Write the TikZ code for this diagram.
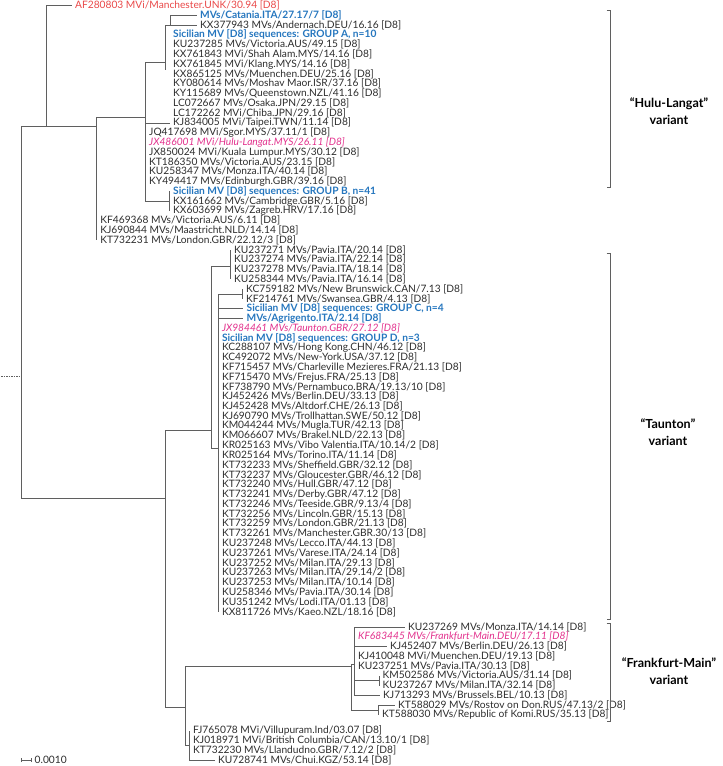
\documentclass[tikz,border=0pt]{standalone}
\usepackage{fontspec}
\setmainfont{Lato}
\definecolor{treegray}{RGB}{95,95,95}
\definecolor{txt}{RGB}{45,45,45}
\definecolor{grpblue}{RGB}{37,118,190}
\definecolor{hlmag}{RGB}{226,48,140}
\definecolor{outred}{RGB}{233,72,72}
\tikzset{
  br/.style={draw=treegray, line width=0.7pt},
  lab/.style={anchor=west, inner xsep=3.5pt, inner ysep=0pt, text=txt, font=\fontsize{10.2}{10}\selectfont},
  blab/.style={lab, text=grpblue, font=\fontsize{10.2}{10}\selectfont\bfseries},
  mlab/.style={lab, text=hlmag, font=\fontsize{10.2}{10}\selectfont\itshape},
  rlab/.style={lab, text=outred},
  varlab/.style={font=\fontsize{12.5}{17}\selectfont\bfseries, align=center, text=black},
}
\begin{document}
\begin{tikzpicture}[x=1pt,y=-1pt]
\useasboundingbox (0,0) rectangle (723,766);
% ---------- labels ----------
\node[rlab] (r1) at (71.5,5.5) {AF280803 MVi/Manchester.UNK/30.94 [D8]};
\node[blab] (r2) at (196.5,15.3) {MVs/Catania.ITA/27.17/7 [D8]};
\node[lab] (r3) at (196.5,25.1) {KX377943 MVs/Andernach.DEU/16.16 [D8]};
\node[blab] (r4) at (169.5,34.8) {Sicilian MV [D8] sequences: GROUP A, n=10};
\node[lab] (r5) at (169.5,44.6) {KU237285 MVs/Victoria.AUS/49.15 [D8]};
\node[lab] (r6) at (169.5,54.4) {KX761843 MVi/Shah Alam.MYS/14.16 [D8]};
\node[lab] (r7) at (169.5,64.2) {KX761845 MVi/Klang.MYS/14.16 [D8]};
\node[lab] (r8) at (169.5,74.0) {KX865125 MVs/Muenchen.DEU/25.16 [D8]};
\node[lab] (r9) at (169.5,83.7) {KY080614 MVs/Moshav Maor.ISR/37.16 [D8]};
\node[lab] (r10) at (169.5,93.5) {KY115689 MVs/Queenstown.NZL/41.16 [D8]};
\node[lab] (r11) at (169.5,103.3) {LC072667 MVs/Osaka.JPN/29.15 [D8]};
\node[lab] (r12) at (169.5,113.1) {LC172262 MVi/Chiba.JPN/29.16 [D8]};
\node[lab] (r13) at (169.5,122.9) {KJ834005 MVi/Taipei.TWN/11.14 [D8]};
\node[lab] (r14) at (145.5,132.6) {JQ417698 MVi/Sgor.MYS/37.11/1 [D8]};
\node[mlab] (r15) at (145.5,142.4) {JX486001 MVi/Hulu-Langat.MYS/26.11 [D8]};
\node[lab] (r16) at (145.5,152.2) {JX850024 MVi/Kuala Lumpur.MYS/30.12 [D8]};
\node[lab] (r17) at (145.5,162.0) {KT186350 MVs/Victoria.AUS/23.15 [D8]};
\node[lab] (r18) at (145.5,171.8) {KU258347 MVs/Monza.ITA/40.14 [D8]};
\node[lab] (r19) at (145.5,181.5) {KY494417 MVs/Edinburgh.GBR/39.16 [D8]};
\node[blab] (r20) at (169.5,191.3) {Sicilian MV [D8] sequences: GROUP B, n=41};
\node[lab] (r21) at (169.5,201.1) {KX161662 MVs/Cambridge.GBR/5.16 [D8]};
\node[lab] (r22) at (169.5,210.9) {KX603699 MVs/Zagreb.HRV/17.16 [D8]};
\node[lab] (r23) at (96.7,220.7) {KF469368 MVs/Victoria.AUS/6.11 [D8]};
\node[lab] (r24) at (96.7,230.4) {KJ690844 MVs/Maastricht.NLD/14.14 [D8]};
\node[lab] (r25) at (96.7,240.2) {KT732231 MVs/London.GBR/22.12/3 [D8]};
\node[lab] (r26) at (230.5,250.0) {KU237271 MVs/Pavia.ITA/20.14 [D8]};
\node[lab] (r27) at (230.5,259.8) {KU237274 MVs/Pavia.ITA/22.14 [D8]};
\node[lab] (r28) at (230.5,269.6) {KU237278 MVs/Pavia.ITA/18.14 [D8]};
\node[lab] (r29) at (230.5,279.3) {KU258344 MVs/Pavia.ITA/16.14 [D8]};
\node[lab] (r30) at (242.5,289.1) {KC759182 MVs/New Brunswick.CAN/7.13 [D8]};
\node[lab] (r31) at (242.5,298.9) {KF214761 MVs/Swansea.GBR/4.13 [D8]};
\node[blab] (r32) at (243,308.7) {Sicilian MV [D8] sequences: GROUP C, n=4};
\node[blab] (r33) at (243,318.5) {MVs/Agrigento.ITA/2.14 [D8]};
\node[mlab] (r34) at (218.3,328.2) {JX984461 MVs/Taunton.GBR/27.12 [D8]};
\node[blab] (r35) at (218.3,338.0) {Sicilian MV [D8] sequences: GROUP D, n=3};
\node[lab] (r36) at (218.3,347.8) {KC288107 MVs/Hong Kong.CHN/46.12 [D8]};
\node[lab] (r37) at (218.3,357.6) {KC492072 MVs/New-York.USA/37.12 [D8]};
\node[lab] (r38) at (218.3,367.4) {KF715457 MVs/Charleville Mezieres.FRA/21.13 [D8]};
\node[lab] (r39) at (218.3,377.1) {KF715470 MVs/Frejus.FRA/25.13 [D8]};
\node[lab] (r40) at (218.3,386.9) {KF738790 MVs/Pernambuco.BRA/19.13/10 [D8]};
\node[lab] (r41) at (218.3,396.7) {KJ452426 MVs/Berlin.DEU/33.13 [D8]};
\node[lab] (r42) at (218.3,406.5) {KJ452428 MVs/Altdorf.CHE/26.13 [D8]};
\node[lab] (r43) at (218.3,416.3) {KJ690790 MVs/Trollhattan.SWE/50.12 [D8]};
\node[lab] (r44) at (218.3,426.0) {KM044244 MVs/Mugla.TUR/42.13 [D8]};
\node[lab] (r45) at (218.3,435.8) {KM066607 MVs/Brakel.NLD/22.13 [D8]};
\node[lab] (r46) at (218.3,445.6) {KR025163 MVs/Vibo Valentia.ITA/10.14/2 [D8]};
\node[lab] (r47) at (218.3,455.4) {KR025164 MVs/Torino.ITA/11.14 [D8]};
\node[lab] (r48) at (218.3,465.2) {KT732233 MVs/Sheffield.GBR/32.12 [D8]};
\node[lab] (r49) at (218.3,474.9) {KT732237 MVs/Gloucester.GBR/46.12 [D8]};
\node[lab] (r50) at (218.3,484.7) {KT732240 MVs/Hull.GBR/47.12 [D8]};
\node[lab] (r51) at (218.3,494.5) {KT732241 MVs/Derby.GBR/47.12 [D8]};
\node[lab] (r52) at (218.3,504.3) {KT732246 MVs/Teeside.GBR/9.13/4 [D8]};
\node[lab] (r53) at (218.3,514.1) {KT732256 MVs/Lincoln.GBR/15.13 [D8]};
\node[lab] (r54) at (218.3,523.8) {KT732259 MVs/London.GBR/21.13 [D8]};
\node[lab] (r55) at (218.3,533.6) {KT732261 MVs/Manchester.GBR.30/13 [D8]};
\node[lab] (r56) at (218.3,543.4) {KU237248 MVs/Lecco.ITA/44.13 [D8]};
\node[lab] (r57) at (218.3,553.2) {KU237261 MVs/Varese.ITA/24.14 [D8]};
\node[lab] (r58) at (218.3,563.0) {KU237252 MVs/Milan.ITA/29.13 [D8]};
\node[lab] (r59) at (218.3,572.7) {KU237263 MVs/Milan.ITA/29.14/2 [D8]};
\node[lab] (r60) at (218.3,582.5) {KU237253 MVs/Milan.ITA/10.14 [D8]};
\node[lab] (r61) at (218.3,592.3) {KU258346 MVs/Pavia.ITA/30.14 [D8]};
\node[lab] (r62) at (218.3,602.1) {KU351242 MVs/Lodi.ITA/01.13 [D8]};
\node[lab] (r63) at (218.3,611.9) {KX811726 MVs/Kaeo.NZL/18.16 [D8]};
\node[lab] (r64) at (404.5,626.9) {KU237269 MVs/Monza.ITA/14.14 [D8]};
\node[mlab] (r65) at (354.5,636.7) {KF683445 MVs/Frankfurt-Main.DEU/17.11 [D8]};
\node[lab] (r66) at (386.5,646.5) {KJ452407 MVs/Berlin.DEU/26.13 [D8]};
\node[lab] (r67) at (354.5,656.2) {KJ410048 MVi/Muenchen.DEU/19.13 [D8]};
\node[lab] (r68) at (354.5,666.0) {KU237251 MVs/Pavia.ITA/30.13 [D8]};
\node[lab] (r69) at (379,675.8) {KM502586 MVs/Victoria.AUS/31.14 [D8]};
\node[lab] (r70) at (379,685.6) {KU237267 MVs/Milan.ITA/32.14 [D8]};
\node[lab] (r71) at (379.5,695.4) {KJ713293 MVs/Brussels.BEL/10.13 [D8]};
\node[lab] (r72) at (394.5,705.2) {KT588029 MVs/Rostov on Don.RUS/47.13/2 [D8]};
\node[lab] (r73) at (378.5,714.9) {KT588030 MVs/Republic of Komi.RUS/35.13 [D8]};
\node[lab] (r74) at (189.5,730.9) {FJ765078 MVi/Villupuram.Ind/03.07 [D8]};
\node[lab] (r75) at (189.5,740.7) {KJ018971 MVi/British Columbia/CAN/13.10/1 [D8]};
\node[lab] (r76) at (189.5,750.5) {KT732230 MVs/Llandudno.GBR/7.12/2 [D8]};
\node[lab] (r77) at (214.5,760.3) {KU728741 MVs/Chui.KGZ/53.14 [D8]};
% ---------- internal nodes ----------
\coordinate (stub) at (1,376);
\coordinate (root) at (21.7,376);
\coordinate (N1) at (46.7,126);
\coordinate (N2) at (96.7,126);
\coordinate (N3) at (145,117);
\coordinate (A) at (165,62);
\coordinate (Aend) at (165,70);
\coordinate (C) at (170,25.1);
\coordinate (GB) at (169.5,201.1);
\coordinate (NT) at (165.7,498);
\coordinate (NTa) at (211.7,430);
\coordinate (Pav) at (230.5,266);
\coordinate (P) at (218.3,448);
\coordinate (KC) at (242.5,294);
\coordinate (NF2) at (185.7,707);
\coordinate (F) at (351.5,666);
\coordinate (F1) at (354,664);
\coordinate (Fm) at (379,680.7);
\coordinate (Fr) at (378.5,710);
\coordinate (NF3) at (189.5,745);
% ---------- branches ----------
\draw[br, dashed, dash pattern=on 1.5pt off 1pt, line width=0.5pt] (stub) -- (root);
\draw[br] (root) |- (N1);
\draw[br] (root) |- (NT);
\draw[br] (N1) |- (r1.west);
\draw[br] (N1) -- (N2);
\draw[br] (N2) |- (N3);
\foreach \r in {23,24,25} \draw[br] (N2) |- (r\r.west);
\draw[br] (N3) |- (A);
\draw[br] (N3) |- (r13.west);
\foreach \r in {14,...,19} \draw[br] (N3) |- (r\r.west);
\draw[br] (N3) |- (GB);
\draw[br] (A) |- (C);
\draw[br] (A) -- (Aend);
\draw[br] (C) |- (r2.west);
\draw[br] (C) -- (r3.west);
\foreach \r in {20,21,22} \draw[br] (GB) |- (r\r.west);
\draw[br] (NT) |- (NTa);
\draw[br] (NT) |- (NF2);
\draw[br] (NTa) |- (Pav);
\draw[br] (NTa) |- (P);
\foreach \r in {26,...,29} \draw[br] (Pav) |- (r\r.west);
\draw[br] (P) |- (KC);
\foreach \r in {30,31} \draw[br] (KC) |- (r\r.west);
\foreach \r in {32,...,63} \draw[br] (P) |- (r\r.west);
\draw[br] (NF2) |- (F);
\draw[br] (NF2) |- (NF3);
\draw[br] (F) |- (F1);
\draw[br] (F) |- (Fr);
\foreach \r in {64,...,68} \draw[br] (F1) |- (r\r.west);
\draw[br] (F1) |- (Fm);
\draw[br] (F1) |- (r71.west);
\foreach \r in {69,70} \draw[br] (Fm) |- (r\r.west);
\foreach \r in {72,73} \draw[br] (Fr) |- (r\r.west);
\foreach \r in {74,...,77} \draw[br] (NF3) |- (r\r.west);
% ---------- scale bar ----------
\coordinate (sbL) at (21,760);
\coordinate (sbR) at (31.5,760);
\draw[br] (sbL) -- (sbR);
\draw[br] ([yshift=-2pt]sbL) -- ([yshift=2pt]sbL);
\draw[br] ([yshift=-2pt]sbR) -- ([yshift=2pt]sbR);
\node[lab, inner xsep=3pt] (sbt) at (sbR) {0.0010};
% ---------- brackets ----------
\coordinate (h1) at (606.5,10);  \coordinate (h2) at (606.5,187);
\coordinate (t1) at (606.5,253); \coordinate (t2) at (606.5,619);
\coordinate (f1) at (606.5,623); \coordinate (f2) at (606.5,721);
\draw[br] (h1) -- ++(4.2,0) |- (h2);
\draw[br] (t1) -- ++(4.2,0) |- (t2);
\draw[br] (f1) -- ++(4.2,0) |- (f2);
\node[varlab] (vh) at (669,111) {“Hulu-Langat”\\variant};
\node[varlab] (vt) at (668,432) {“Taunton”\\variant};
\node[varlab] (vf) at (669,671) {“Frankfurt-Main”\\variant};
\end{tikzpicture}
\end{document}
